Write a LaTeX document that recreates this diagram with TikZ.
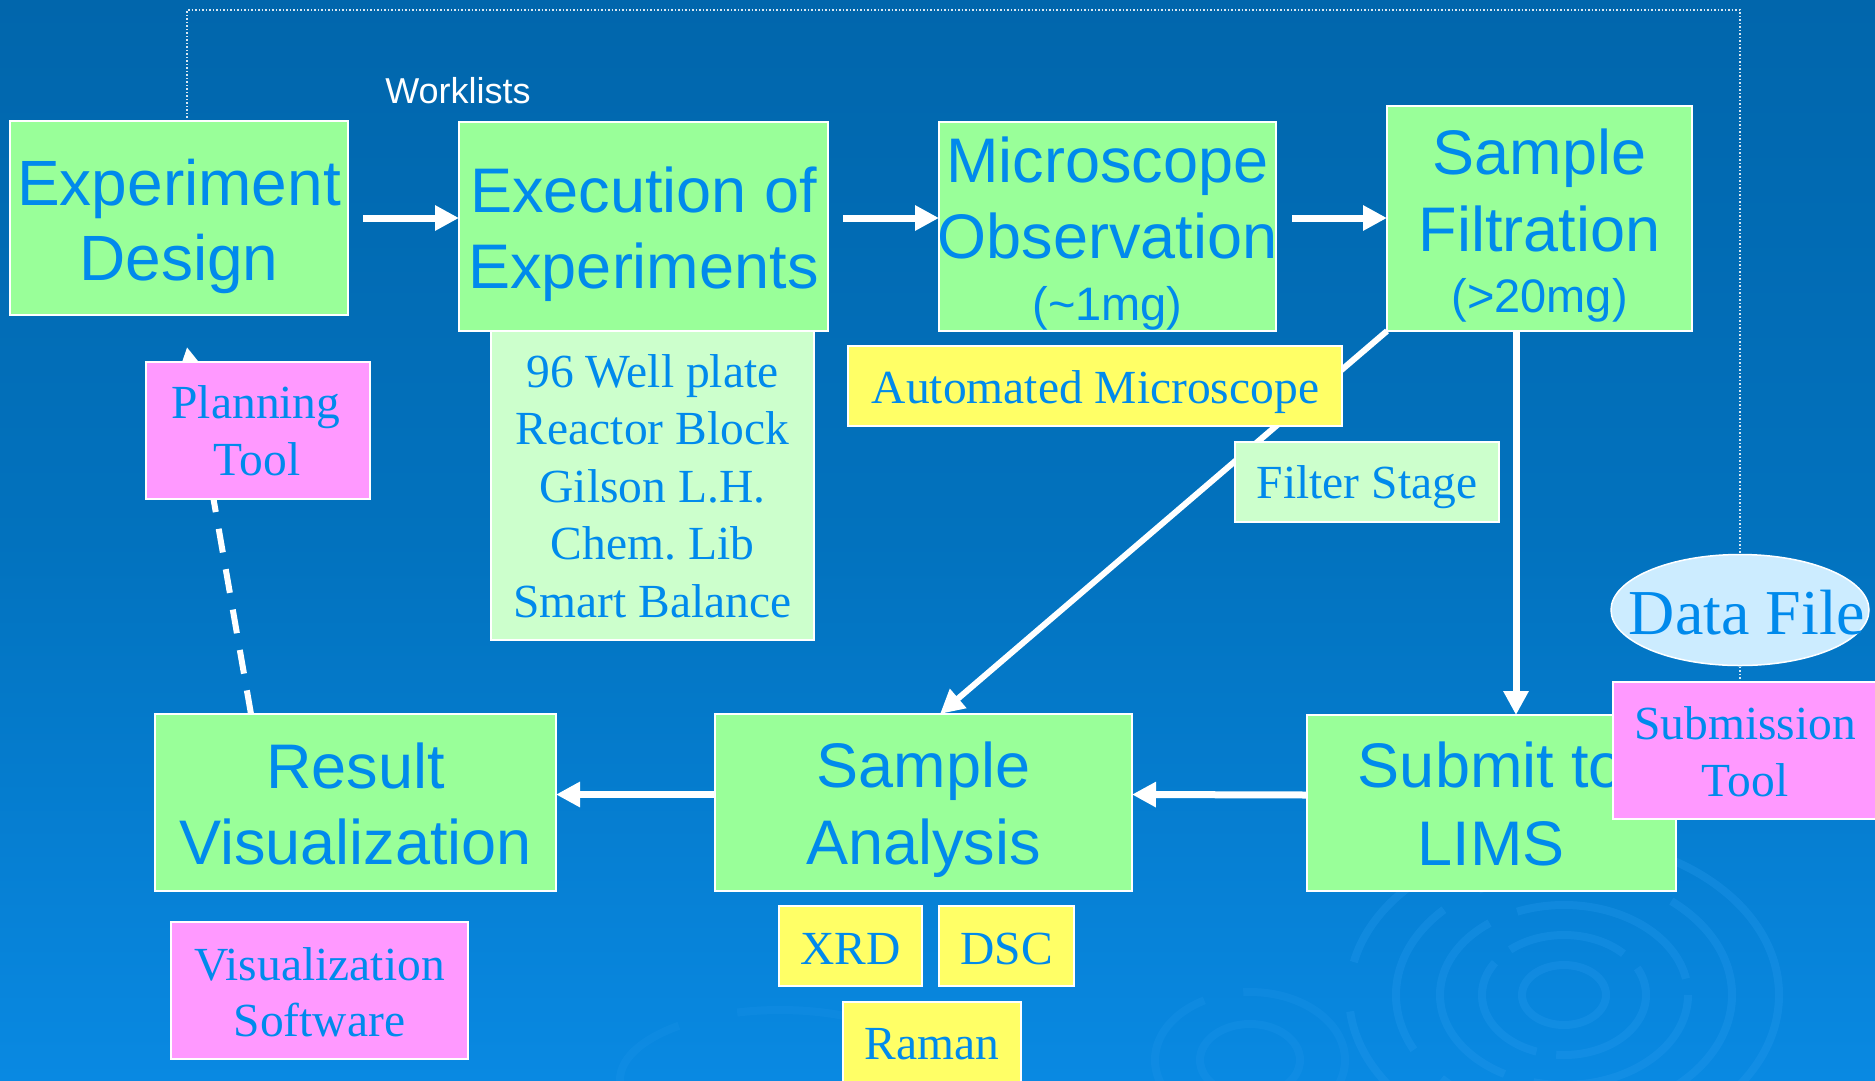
\documentclass[tikz,border=0pt]{standalone}
\usepackage{fontspec}
\setmainfont{Liberation Serif}
\newfontfamily\arialf{Liberation Sans}
\usetikzlibrary{arrows.meta,calc,shapes.geometric,fit}
\definecolor{bgtop}{RGB}{1,102,172}
\definecolor{bgmid}{RGB}{2,114,190}
\definecolor{bgbot}{RGB}{9,137,226}
\definecolor{txtblue}{RGB}{0,138,236}
\definecolor{boxgreen}{RGB}{153,255,153}
\definecolor{lightgreen}{RGB}{204,255,204}
\definecolor{boxyellow}{RGB}{255,255,102}
\definecolor{boxpink}{RGB}{255,153,255}
\definecolor{fileblue}{RGB}{204,236,255}
\definecolor{ripplecol}{RGB}{40,155,238}
\pgfdeclarelayer{bg}
\pgfdeclarelayer{edges}
\pgfsetlayers{bg,edges,main}
\frenchspacing
\begin{document}
\begin{tikzpicture}[x=1pt,y=-1pt,
  box/.style={draw=white,line width=1.5pt,inner sep=0pt,outer sep=0pt},
  gbox/.style={box,fill=boxgreen},
  lbox/.style={box,fill=lightgreen},
  ybox/.style={box,fill=boxyellow},
  pbox/.style={box,fill=boxpink},
  bigtxt/.style={font=\arialf\fontsize{63}{63}\selectfont,text=txtblue,anchor=base,inner sep=0pt},
  midtxt/.style={font=\arialf\fontsize{47}{47}\selectfont,text=txtblue,anchor=base,inner sep=0pt},
  sertxt/.style={font=\fontsize{47.5}{50}\selectfont,text=txtblue,anchor=base,inner sep=0pt},
  arr/.style={draw=white,line width=7pt,-{Triangle[length=24pt,width=24pt]}},
  diagarr/.style={draw=white,line width=6pt,-{Triangle[length=24pt,width=24pt]}},
  dasharr/.style={draw=white,line width=6pt,dash pattern=on 24pt off 17pt,-{Triangle[length=24pt,width=24pt]}},
  dotline/.style={draw=white,draw opacity=0.85,line width=1.5pt,dash pattern=on 1.5pt off 2pt},
  ripple/.style={draw=ripplecol,draw opacity=0.3,line width=8pt},
]
\useasboundingbox (0,0) rectangle (1875,1080);
\begin{pgfonlayer}{bg}
  \shade[top color=bgtop,bottom color=bgbot,middle color=bgmid] (0,0) rectangle (1875,1080);
  \draw[ripple] (1564,995) ellipse [x radius=42,y radius=30];
  \draw[ripple,dash pattern=on 120pt off 20pt] (1564,995) ellipse [x radius=82,y radius=60];
  \draw[ripple,dash pattern=on 200pt off 30pt] (1564,995) ellipse [x radius=124,y radius=90];
  \draw[ripple,dash pattern=on 160pt off 40pt] (1564,995) ellipse [x radius=168,y radius=122];
  \draw[ripple,dash pattern=on 260pt off 50pt] (1564,995) ellipse [x radius=215,y radius=156];
  \draw[ripple,draw opacity=0.2] (1250,1060) ellipse [x radius=50,y radius=36];
  \draw[ripple,draw opacity=0.2,dash pattern=on 150pt off 40pt] (1250,1060) ellipse [x radius=95,y radius=68];
  \draw[ripple,draw opacity=0.18,dash pattern=on 200pt off 60pt] (780,1080) ellipse [x radius=160,y radius=70];
\end{pgfonlayer}

% main boxes
\node[gbox,fit={(10,121) (348,315)}] (ed) {};
\node[bigtxt,font=\arialf\fontsize{64}{64}\selectfont] (ed-a) at (179,205) {Experiment};
\node[bigtxt,font=\arialf\fontsize{64}{64}\selectfont] (ed-b) at (179,280) {Design};

\node[gbox,fit={(459,122) (828,331)}] (ex) {};
\node[bigtxt] (ex-a) at (643.5,212) {Execution of};
\node[bigtxt] (ex-b) at (643.5,288) {Experiments};

\node[gbox,fit={(939,122) (1276,331)}] (mo) {};
\node[bigtxt] (mo-a) at (1107.5,182) {Microscope};
\node[bigtxt] (mo-b) at (1107.5,258) {Observation};
\node[midtxt] (mo-c) at (1107.5,320) {(\textasciitilde1mg)};

\node[gbox,fit={(1387,106) (1692,331)}] (sf) {};
\node[bigtxt] (sf-a) at (1539.5,174) {Sample};
\node[bigtxt] (sf-b) at (1539.5,251) {Filtration};
\node[midtxt] (sf-c) at (1539.5,312) {(>20mg)};

\node[gbox,fit={(1307,715) (1676,891)}] (sl) {};
\node[bigtxt] (sl-a) at (1491,787) {Submit to};
\node[bigtxt] (sl-b) at (1491,865) {LIMS};

\node[gbox,fit={(715,714) (1132,891)}] (sa) {};
\node[bigtxt] (sa-a) at (923.5,787) {Sample};
\node[bigtxt] (sa-b) at (923.5,864) {Analysis};

\node[gbox,fit={(155,714) (556,891)}] (rv) {};
\node[bigtxt] (rv-a) at (355.5,788) {Result};
\node[bigtxt] (rv-b) at (355.5,864) {Visualization};

% equipment / tool boxes
\node[lbox,fit={(491,331) (814,640)}] (lst) {};
\node[sertxt] (lst-a) at (652.5,387) {96 Well plate};
\node[sertxt] (lst-b) at (652.5,444) {Reactor Block};
\node[sertxt] (lst-c) at (652.5,502) {Gilson L.H.};
\node[sertxt] (lst-d) at (652.5,559) {Chem. Lib};
\node[sertxt] (lst-e) at (652.5,617) {Smart Balance};

\node[ybox,fit={(848,346) (1342,426)}] (am) {};
\node[sertxt] (am-a) at (1095.5,403) {Automated Microscope};

\node[lbox,fit={(1235,442) (1499,522)}] (fs) {};
\node[sertxt] (fs-a) at (1367,498) {Filter Stage};

\node[ybox,fit={(779,906) (922,986)}] (xrd) {};
\node[sertxt] (xrd-a) at (850.5,964) {XRD};
\node[ybox,fit={(939,906) (1074,986)}] (dsc) {};
\node[sertxt] (dsc-a) at (1006.5,964) {DSC};
\node[ybox,fit={(843,1002) (1021,1095)}] (ram) {};
\node[sertxt] (ram-a) at (932,1059) {Raman};

\node[pbox,fit={(146,362) (370,499)}] (pt) {};
\node[sertxt] (pt-a) at (256,418) {Planning};
\node[sertxt] (pt-b) at (257,475) {Tool};

\node[pbox,fit={(1613,682) (1890,819)}] (st) {};
\node[sertxt] (st-a) at (1745,739) {Submission};
\node[sertxt] (st-b) at (1745,796) {Tool};

\node[pbox,fit={(171,922) (468,1059)}] (vs) {};
\node[sertxt] (vs-a) at (319.5,980) {Visualization};
\node[sertxt] (vs-b) at (319.5,1036) {Software};

\node[ellipse,draw=white,line width=1.5pt,fill=fileblue,minimum width=258pt,minimum height=111pt,inner sep=0pt] (df) at (1740,610) {};
\node[sertxt,font=\fontsize{64}{64}\selectfont] (df-a) at (1747,634) {Data File};

\node[font=\arialf\fontsize{36}{36}\selectfont,text=white,anchor=base,inner sep=0pt] (wl) at (458,103) {Worklists};

\coordinate (dtop) at (1740,10);
\coordinate (ptip) at (187,347);

\begin{pgfonlayer}{edges}
  \draw[dotline] ($(ed.north west)+(177,0)$) |- (dtop) -- (st.north -| dtop);
  \draw[arr] ($(ed.east)+(15,0)$) -- (ed.east -| ex.west);
  \draw[arr] ($(ex.east|-ed.east)+(15,0)$) -- (ed.east -| mo.west);
  \draw[arr] ($(mo.east|-ed.east)+(16,0)$) -- (ed.east -| sf.west);
  \draw[arr] ($(sf.south west)+(129,0)$) -- ($(sl.north west)+(209,0)$);
  \draw[diagarr] (sf.south west) -- ($(sa.north west)+(225,0)$);
  \draw[arr] ($(sl.west)+(0,-8)$) -- ($(sa.east)+(0,-8)$);
  \draw[arr] ($(sa.west)+(0,-8)$) -- ($(rv.east)+(0,-8)$);
  \draw[dasharr] ($(rv.north west)+(96,0)$) -- (ptip);
\end{pgfonlayer}
\end{tikzpicture}
\end{document}
